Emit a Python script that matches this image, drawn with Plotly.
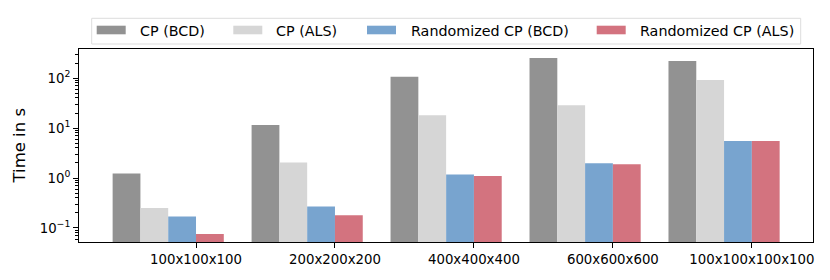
import plotly.graph_objects as go

categories = ["100x100x100", "200x200x200", "400x400x400", "600x600x600", "100x100x100x100"]
series_names = ["CP (BCD)", "CP (ALS)", "Randomized CP (BCD)", "Randomized CP (ALS)"]
cp_bcd = [1.23, 11.5, 106, 252, 220]
cp_als = [0.25, 2.04, 18, 28.6, 92]
rcp_bcd = [0.17, 0.27, 1.17, 1.98, 5.5]
rcp_als = [0.076, 0.18, 1.1, 1.89, 5.5]
colors = ["#929292", "#d6d6d6", "#78a4cf", "#d3737f"]

values = [cp_bcd, cp_als, rcp_bcd, rcp_als]
offsets = [-0.6, -0.4, -0.2, 0.0]
xidx = list(range(len(categories)))

W, H = 830, 280
ML, MR, MT, MB = 79, 17, 49, 38
PW, PH = W - ML - MR, H - MT - MB

fig = go.Figure()
for name, vals, col, off in zip(series_names, values, colors, offsets):
    fig.add_trace(go.Bar(
        x=xidx, y=vals, name=name, width=0.2, offset=off,
        marker=dict(color=col, line=dict(width=0)),
        showlegend=False,
    ))

def px2paper_x(px):
    return (px - ML) / PW

def px2paper_y(py):
    return (H - MB - py) / PH

shapes = []
annotations = []
# legend box
shapes.append(dict(type="rect", xref="paper", yref="paper",
                   x0=px2paper_x(91.7), x1=px2paper_x(800.7),
                   y0=px2paper_y(44), y1=px2paper_y(18.3),
                   line=dict(color="#dddddd", width=1), fillcolor="rgba(255,255,255,0.8)", layer="above"))
swatch_x = [96.7, 233.3, 367.0, 596.7]
text_x = [138.3, 274.3, 408.5, 638.0]
for name, col, sx, tx in zip(series_names, colors, swatch_x, text_x):
    shapes.append(dict(type="rect", xref="paper", yref="paper",
                       x0=px2paper_x(sx), x1=px2paper_x(sx + 29),
                       y0=px2paper_y(34.3), y1=px2paper_y(25.7),
                       line=dict(width=0), fillcolor=col, layer="above"))
    annotations.append(dict(text=name, xref="paper", yref="paper",
                            x=px2paper_x(tx), y=px2paper_y(30.5),
                            xanchor="left", yanchor="middle", showarrow=False,
                            font=dict(size=14.3, color="black", family="DejaVu Sans")))

annotations.append(dict(text="Time in s", xref="paper", yref="paper",
                        x=px2paper_x(19), y=0.5, textangle=-90,
                        xanchor="center", yanchor="middle", showarrow=False,
                        font=dict(size=16.5, color="black", family="DejaVu Sans")))

minor_vals = [m * 10 ** e for e in range(-2, 3) for m in range(2, 10)]

fig.update_layout(
    width=W, height=H,
    margin=dict(l=ML, r=MR, t=MT, b=MB, autoexpand=False),
    paper_bgcolor="white", plot_bgcolor="white",
    barmode="overlay",
    font=dict(family="DejaVu Sans", color="black", size=13.3),
    shapes=shapes, annotations=annotations,
    showlegend=False,
)
fig.update_xaxes(
    range=[-0.842, 4.44],
    tickvals=xidx, ticktext=categories,
    ticks="outside", ticklen=5, tickwidth=1, tickcolor="black",
    showline=True, linecolor="black", linewidth=1, mirror=True,
    showgrid=False, zeroline=False,
    tickfont=dict(size=13.3, color="black"),
)
fig.update_yaxes(
    type="log", range=[-1.281, 2.582],
    tickvals=[0.1, 1, 10, 100],
    ticktext=["10<sup>\u22121</sup>", "10<sup>0</sup>", "10<sup>1</sup>", "10<sup>2</sup>"],
    ticks="outside", ticklen=5, tickwidth=1, tickcolor="black",
    minor=dict(tickvals=minor_vals, ticks="outside", ticklen=2.8, tickwidth=0.8, tickcolor="black", showgrid=False),
    showline=True, linecolor="black", linewidth=1, mirror=True,
    showgrid=False, zeroline=False,
    tickfont=dict(size=13.3, color="black"),
)

fig.write_html("out.html", config={"displayModeBar": False},
               post_script="document.body.style.margin='0';")
